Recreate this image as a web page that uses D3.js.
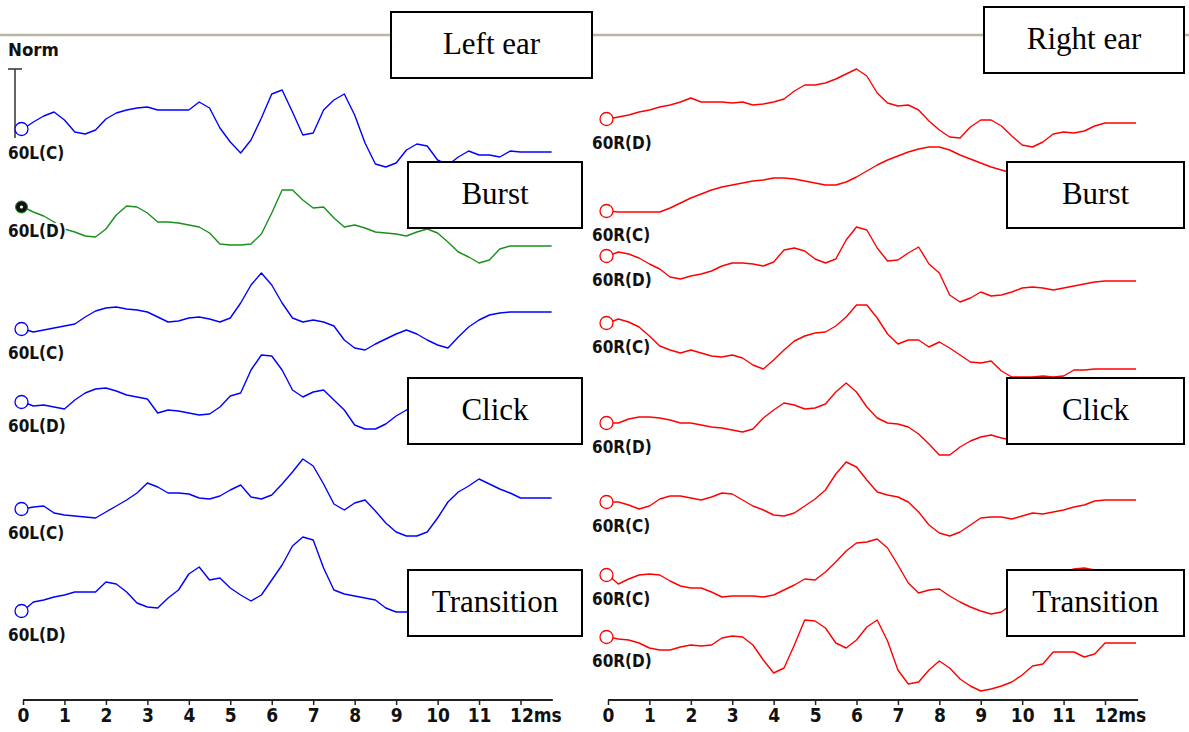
<!DOCTYPE html>
<html><head><meta charset="utf-8">
<script src="https://cdn.jsdelivr.net/npm/d3@7"></script>
<style>
html,body{margin:0;padding:0;background:#fff;}
svg{display:block;}
.lbl{font-family:"DejaVu Sans Condensed","DejaVu Sans",sans-serif;font-stretch:condensed;font-weight:bold;fill:#111;}
.boxt{font-family:"Liberation Serif","Times New Roman",serif;fill:#000;}
</style></head><body>
<svg id="c" width="1189" height="732"></svg>
<script>
// ---- time grid (ms), one sample every 0.25 ms ----
const ms = d3.range(52).map(i => i * 0.25);
const tickValues = d3.range(0, 13);

// ---- left ear traces (amplitude, arbitrary units, positive up) ----
const leftLabels = ["60L(C)", "60L(D)", "60L(C)", "60L(D)", "60L(C)", "60L(D)"];
const L1 = [0,7,13,17,9,-3,-5,-1,10,16, 19,21,22,19,19,19,19,27,21,1, -13,-24,-11,11,35,39,17,-6,-4,19, 29,35,14,-14,-35,-38,-34,-21,-15,-17, -31,-36,-28,-22,-26,-26,-28,-22,-23,-23, -23,-23];
const L2 = [0,-5,-9,-15,-22,-25,-29,-30,-22,-8, 1,0,-6,-15,-15,-16,-18,-20,-26,-37, -38,-38,-37,-27,-6,17,17,7,-1,0, -11,-20,-18,-21,-25,-26,-27,-29,-25,-22, -26,-35,-45,-50,-56,-53,-42,-39,-39,-39, -39,-39];
const L3 = [0,-3,-1,1,3,5,12,18,21,22, 20,19,17,12,7,8,11,12,10,7, 11,26,44,56,44,26,11,7,9,7, 3,-11,-19,-21,-15,-10,-5,-1,-5,-11, -16,-19,-8,2,9,14,16,17,17,17, 17,17];
const L4 = [0,-4,-3,-5,-7,2,9,13,14,11, 7,5,3,-11,-8,-9,-11,-13,-12,-5, 6,9,32,47,46,32,12,5,10,12, 2,-8,-23,-27,-27,-22,-14,-8,-3,0, 2,0,-3,0,4,6,7,7,7,7, 7,7];
const L5 = [0,2,3,-4,-6,-7,-8,-9,-3,3, 9,16,26,22,16,16,15,11,10,13, 19,24,12,10,14,25,37,50,43,25, 5,-1,6,9,-2,-14,-23,-27,-27,-23, -9,7,17,23,30,25,20,16,11,11, 11,11];
const L6 = [0,9,11,14,16,19,19,19,29,27, 19,8,4,3,13,21,37,44,31,33, 23,16,10,16,31,46,65,74,71,43, 21,17,15,13,11,3,-1,-1,1,6, 11,16,21,23,21,16,13,11,11,11, 11,11];

// ---- right ear traces ----
const rightLabels = ["60R(D)", "60R(C)", "60R(D)", "60R(C)", "60R(D)", "60R(C)", "60R(C)", "60R(D)"];
const R1 = [0,2,4,7,9,12,14,17,21,17, 17,17,16,17,14,15,17,20,28,34, 34,36,40,45,50,43,26,16,13,14, 9,-2,-11,-18,-19,-8,-1,-1,-7,-17, -26,-28,-23,-15,-13,-14,-12,-7,-4,-4, -4,-4];
const R2 = [0,-1,-1,-1,-1,-1,3,8,13,17, 21,24,26,28,30,31,33,33,32,30, 28,26,26,29,34,40,46,51,55,59, 62,64,64,61,56,52,48,44,41,38, 35,33,31,29,28,27,26,26,26,26, 26,26];
const R3 = [0,4,2,-2,-8,-13,-21,-23,-20,-18, -15,-10,-7,-7,-8,-10,-6,6,8,5, -3,-7,-3,16,29,26,8,-5,-4,3, 9,-8,-17,-39,-46,-42,-36,-40,-39,-36, -32,-31,-32,-34,-32,-30,-28,-26,-25,-25, -25,-25];
const R4 = [0,4,1,-4,-13,-23,-27,-30,-27,-30, -33,-34,-32,-35,-42,-46,-37,-27,-18,-13, -10,-9,-3,6,18,18,5,-11,-21,-17, -17,-24,-19,-25,-32,-39,-40,-38,-48,-54, -54,-54,-53,-54,-53,-47,-47,-46,-46,-46, -46,-46];
const R5 = [0,0,4,6,6,5,3,0,0,-2, -4,-5,-7,-9,-6,5,13,20,18,14, 15,19,31,40,31,16,5,0,-1,-4, -11,-21,-32,-32,-24,-18,-14,-12,-15,-17, -17,-15,-13,-11,-10,-9,-9,-9,-9,-9, -9,-9];
const R6 = [0,0,-3,-7,-4,3,6,6,4,2, 5,9,8,2,-4,-8,-13,-14,-11,-4, 3,12,28,40,35,22,10,7,5,0, -10,-23,-31,-34,-30,-23,-16,-15,-15,-17, -14,-11,-12,-10,-8,-5,-3,1,2,2, 2,2];
const R7 = [0,-9,-4,0,1,0,-6,-11,-13,-13, -17,-22,-21,-21,-21,-22,-20,-15,-10,-4, -5,3,13,24,32,33,36,27,10,-8, -18,-15,-14,-21,-27,-32,-36,-39,-37,-29, -22,-15,-8,-2,3,6,7,5,5,5, 5,5];
const R8 = [0,-2,-3,-6,-11,-13,-13,-10,-8,-9, -8,-1,1,0,-8,-23,-36,-31,-8,17, 16,9,-6,-11,-3,10,17,-4,-33,-47, -45,-33,-24,-31,-42,-49,-54,-52,-49,-45, -38,-29,-27,-15,-15,-15,-20,-17,-6,-6, -6,-6];

const boxTexts = ["Left ear", "Right ear", "Burst", "Burst", "Click", "Click", "Transition", "Transition"];
const normLabel = "Norm";
const normBar = 69; // scale bar height in amplitude units

// ---- layout / style (kept apart from the data) ----
const W = 1189, H = 732;
const leftBase = [129, 207, 329, 402, 509, 611];
const rightBase = [119, 211, 256, 323, 423, 502, 575, 637];
const leftColors = ["#0000ff", "#1a8f1a", "#0000ff", "#0000ff", "#0000ff", "#0000ff"];
const rightColors = rightLabels.map(() => "#ff0000");
const boxRects = [
  [391, 12, 201, 66], [984, 7, 200, 66],
  [408, 162, 174, 66], [1007, 162, 177, 66],
  [408, 378, 174, 66], [1007, 378, 177, 66],
  [408, 570, 174, 66], [1007, 570, 177, 66]
];
const axisY = 700;

const svg = d3.select("#c");
svg.append("rect").attr("width", W).attr("height", H).attr("fill", "#fff");

const amp = d3.scaleLinear().domain([0, 100]).range([0, -100]);

const panels = [
  { x: d3.scaleLinear().domain([0, 12]).range([23, 520.5]), end: 12.78,
    series: [L1, L2, L3, L4, L5, L6], labels: leftLabels, colors: leftColors, base: leftBase, labelX: 8 },
  { x: d3.scaleLinear().domain([0, 12]).range([608, 1105]), end: 12.8,
    series: [R1, R2, R3, R4, R5, R6, R7, R8], labels: rightLabels, colors: rightColors, base: rightBase, labelX: 592 }
];

// top separator line
svg.append("line").attr("x1", 0).attr("x2", W).attr("y1", 35).attr("y2", 35)
  .attr("stroke", "#bdb5a4").attr("stroke-width", 2.5);

// Norm label + scale bar
svg.append("text").attr("class", "lbl").attr("x", 8).attr("y", 56)
  .style("font-size", "18.5px").text(normLabel);
const barTop = leftBase[0] + amp(normBar) + 9;
svg.append("path")
  .attr("d", `M15,${barTop}V${barTop + normBar}M8,${barTop}H22`)
  .attr("stroke", "#333").attr("stroke-width", 1.5).attr("fill", "none");

panels.forEach(p => {
  const g = svg.append("g");
  p.series.forEach((s, k) => {
    const line = d3.line().x((d, i) => p.x(ms[i])).y(d => p.base[k] + amp(d));
    g.append("path").attr("d", line(s)).attr("fill", "none")
      .attr("stroke", p.colors[k]).attr("stroke-width", 1.4)
      .attr("stroke-linejoin", "round");
  });
  // start markers
  p.series.forEach((s, k) => {
    const cx = p.x(0) - 1.5, cy = p.base[k] + amp(s[0]);
    if (p.colors[k] === "#1a8f1a") {
      g.append("circle").attr("cx", cx).attr("cy", cy).attr("r", 6)
        .attr("fill", "#111").attr("stroke", "#1a8f1a").attr("stroke-width", 1);
      g.append("circle").attr("cx", cx).attr("cy", cy).attr("r", 1.6).attr("fill", "#fff");
    } else {
      g.append("circle").attr("cx", cx).attr("cy", cy).attr("r", 6.5)
        .attr("fill", "#fff").attr("stroke", p.colors[k]).attr("stroke-width", 1.3);
    }
  });
  // trace labels with white background
  p.labels.forEach((t, k) => {
    const lg = g.append("g");
    const txt = lg.append("text").attr("class", "lbl").attr("x", p.labelX)
      .attr("y", p.base[k] + 30).style("font-size", "17px").text(t);
    const bb = txt.node().getBBox();
    lg.insert("rect", "text").attr("x", bb.x).attr("y", bb.y + 2)
      .attr("width", bb.width).attr("height", bb.height - 3).attr("fill", "#fff");
  });
});

// annotation boxes
boxRects.forEach((r, i) => {
  svg.append("rect").attr("x", r[0]).attr("y", r[1]).attr("width", r[2]).attr("height", r[3])
    .attr("fill", "#fff").attr("stroke", "#000").attr("stroke-width", 2);
  svg.append("text").attr("class", "boxt").attr("x", r[0] + r[2] / 2).attr("y", r[1] + r[3] / 2 + 9)
    .attr("text-anchor", "middle").style("font-size", "31px").text(boxTexts[i]);
});

// time axes
panels.forEach(p => {
  const ax = d3.axisBottom(p.x).tickValues(tickValues).tickSize(5).tickSizeOuter(0)
    .tickFormat(d => d === 12 ? "12ms" : String(d));
  const g = svg.append("g").attr("transform", `translate(0,${axisY})`).call(ax);
  g.select(".domain").attr("d", `M${p.x(0)},0H${p.x(p.end)}`)
    .attr("stroke", "#222").attr("stroke-width", 2);
  g.selectAll(".tick line").attr("stroke", "#222").attr("stroke-width", 1.5);
  g.selectAll(".tick text").attr("class", "lbl").attr("fill", "#111")
    .attr("y", 9).attr("dy", "0.71em").style("font-size", "19px");
  g.selectAll(".tick text").filter(d => d === 12).attr("text-anchor", "start").attr("dx", -11);
});
</script></body></html>
